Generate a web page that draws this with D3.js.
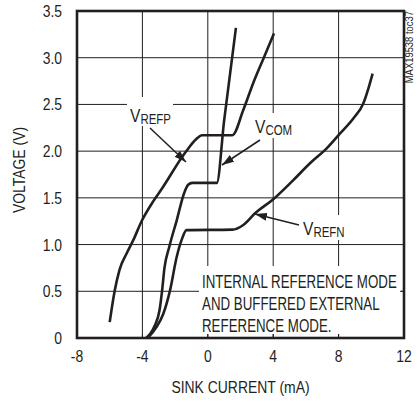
<!DOCTYPE html>
<html>
<head>
<meta charset="utf-8">
<script src="https://cdn.jsdelivr.net/npm/d3@7"></script>
<style>
  html, body { margin: 0; padding: 0; background: #fff; }
  svg { display: block; }
  text { font-family: "Liberation Sans", Arial, sans-serif; fill: #231f20; }
</style>
</head>
<body>
<svg id="chart" width="417" height="403"></svg>
<script>
// ---- data ----
const xTicks = [-8, -4, 0, 4, 8, 12];
const yTicks = [0, 0.5, 1.0, 1.5, 2.0, 2.5, 3.0, 3.5];
const yTickLabels = ["0", "0.5", "1.0", "1.5", "2.0", "2.5", "3.0", "3.5"];

const vrefpX = [-6.0, -5.7, -5.4, -4.95, -4.55, -4.05, -3.35, -2.8, -1.4, -0.7, -0.35, 1.5, 2.17, 2.78, 3.4, 4.05];
const vrefpY = [0.17, 0.5, 0.73, 0.91, 1.05, 1.25, 1.46, 1.6, 1.98, 2.13, 2.17, 2.17, 2.44, 2.73, 2.99, 3.26];

const vcomX = [-3.78, -3.5, -3.25, -2.95, -2.8, -2.65, -2.35, -1.9, -1.45, -1.2, -0.95, 0.55, 1.0, 1.72];
const vcomY = [0.0, 0.05, 0.13, 0.3, 0.5, 0.75, 0.98, 1.26, 1.55, 1.64, 1.66, 1.66, 2.33, 3.32];

const vrefnX = [-3.68, -3.13, -2.72, -2.31, -1.9, -1.6, -1.3, 1.5, 2.17, 2.89, 3.97, 5.23, 6.25, 7.27, 8.09, 8.9, 9.51, 9.82, 10.08];
const vrefnY = [0.0, 0.12, 0.26, 0.51, 0.87, 1.05, 1.155, 1.16, 1.21, 1.335, 1.48, 1.69, 1.87, 2.03, 2.19, 2.35, 2.51, 2.67, 2.83];

const noteLines = ["INTERNAL REFERENCE MODE", "AND BUFFERED EXTERNAL", "REFERENCE MODE."];

// ---- layout ----
const svg = d3.select("#chart");
const L = 77, T = 11, W = 327, H = 327;
const x = d3.scaleLinear().domain([-8, 12]).range([L, L + W]);
const y = d3.scaleLinear().domain([0, 3.5]).range([T + H, T]);
const ink = "#231f20";
const NARROW = 0.82;

// narrow text helper: places text at (px,py) (optionally rotated) squeezed horizontally
function ntext(parent, px, py, str, size, anchor, rot, k) {
  const r = rot ? ` rotate(${rot})` : "";
  return parent.append("text")
    .attr("transform", `translate(${px},${py})${r} scale(${k || NARROW},1)`)
    .attr("font-size", size).attr("text-anchor", anchor || "start").text(str);
}

// grid
const g = svg.append("g");
g.selectAll(".vg").data(xTicks.slice(1, -1)).enter().append("line")
  .attr("x1", d => x(d)).attr("x2", d => x(d)).attr("y1", T).attr("y2", T + H)
  .attr("stroke", ink).attr("stroke-width", 1);
g.selectAll(".hg").data(yTicks.slice(1, -1)).enter().append("line")
  .attr("x1", L).attr("x2", L + W).attr("y1", d => y(d)).attr("y2", d => y(d))
  .attr("stroke", ink).attr("stroke-width", 1);

// white label backgrounds
const bg = svg.append("g").attr("fill", "#fff");
bg.append("rect").attr("x", 199).attr("y", 266).attr("width", 202).attr("height", 68);
bg.append("rect").attr("x", 127).attr("y", 97).attr("width", 46).attr("height", 29);
bg.append("rect").attr("x", 252).attr("y", 113).attr("width", 41).attr("height", 25);
bg.append("rect").attr("x", 300).attr("y", 215).attr("width", 42).attr("height", 25);

// inner bottom tick stubs
svg.append("g").selectAll("line").data(xTicks.slice(1, -1)).enter().append("line")
  .attr("x1", d => x(d)).attr("x2", d => x(d)).attr("y1", T + H - 4).attr("y2", T + H)
  .attr("stroke", ink).attr("stroke-width", 1);
svg.append("line").attr("x1", L + W - 4).attr("x2", L + W).attr("y1", y(0.5)).attr("y2", y(0.5))
  .attr("stroke", ink).attr("stroke-width", 1);

// curves
const line = d3.line().x(d => x(d[0])).y(d => y(d[1])).curve(d3.curveMonotoneX);
const series = [
  d3.zip(vrefpX, vrefpY),
  d3.zip(vcomX, vcomY),
  d3.zip(vrefnX, vrefnY)
];
svg.append("g").selectAll("path").data(series).enter().append("path")
  .attr("d", line).attr("fill", "none").attr("stroke", ink)
  .attr("stroke-width", 2.6).attr("stroke-linejoin", "round").attr("stroke-linecap", "butt");

// arrows
svg.append("defs").append("marker").attr("id", "ah")
  .attr("viewBox", "0 0 12 8").attr("refX", 12).attr("refY", 4)
  .attr("markerWidth", 12).attr("markerHeight", 8).attr("markerUnits", "userSpaceOnUse")
  .attr("orient", "auto")
  .append("path").attr("d", "M0,0 L12,4 L0,8 Z").attr("fill", ink);
const arrows = [
  [150, 128, 186, 162],
  [260, 140, 222, 165],
  [299, 225, 255, 214]
];
svg.append("g").selectAll("line").data(arrows).enter().append("line")
  .attr("x1", d => d[0]).attr("y1", d => d[1]).attr("x2", d => d[2]).attr("y2", d => d[3])
  .attr("stroke", ink).attr("stroke-width", 1.5).attr("marker-end", "url(#ah)");

// series labels
function vlabel(px, py, sub) {
  const t = ntext(svg, px, py, null, 19);
  t.append("tspan").text("V");
  t.append("tspan").attr("font-size", 14).attr("dy", 2).text(sub);
}
vlabel(130, 122, "REFP");
vlabel(255, 133, "COM");
vlabel(303, 235, "REFN");

// note
const ng = svg.append("g");
noteLines.forEach((d, i) => ntext(ng, 202, 288 + i * 22, d, 18, "start", 0, 0.74));

// frame
svg.append("rect").attr("x", L).attr("y", T).attr("width", W).attr("height", H)
  .attr("fill", "none").attr("stroke", ink).attr("stroke-width", 2.6);

// tick labels
const tl = svg.append("g");
yTicks.forEach((d, i) => ntext(tl, 62, y(d) + 6, yTickLabels[i], 17, "end"));
xTicks.forEach(d => ntext(tl, x(d), 362, String(d), 17, "middle"));

// axis titles
ntext(svg, x(2), 393, "SINK CURRENT (mA)", 17, "middle");
ntext(svg, 25, 170, "VOLTAGE (V)", 17, "middle", -90);
ntext(svg, 413, T, "MAX19538 toc37", 11.5, "end", -90);
</script>
</body>
</html>
